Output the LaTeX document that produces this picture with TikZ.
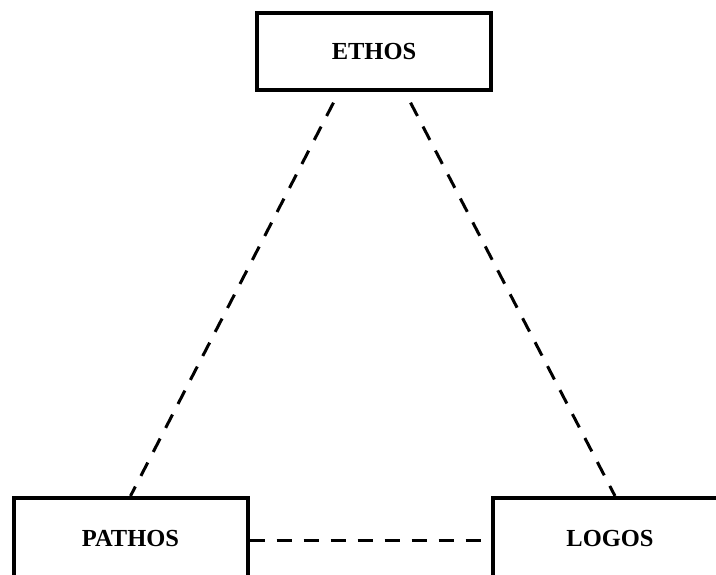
\documentclass[tikz,border=0pt]{standalone}
\usepackage{fontspec}
\setmainfont{Liberation Serif}
\usepackage{tikz}
\usetikzlibrary{calc}

\begin{document}
\begin{tikzpicture}[x=1pt,y=-1pt]
\tikzstyle{main}=[rectangle, draw=black, line width=4pt, inner sep=0pt, minimum width=234pt, minimum height=77pt, font=\fontsize{24.5}{28}\selectfont\bfseries]
\tikzstyle{low}=[main, minimum height=81pt]
\tikzstyle{connect}=[line width=3pt, dash pattern=on 15pt off 12pt, dash phase=15pt]

  \useasboundingbox (0,0) rectangle (716,574);

  \node[main] (ethos)  at (374,51.5)   {ETHOS};
  \node[low]  (pathos) at (130.5,538.5) {PATHOS};
  \node[low]  (logos)  at (610,538.5)  {LOGOS};

  \path ([xshift=-35pt]ethos.south) edge [connect] (pathos.north)
        ([xshift=31pt]ethos.south)  edge [connect] ([xshift=5pt]logos.north)
        ([yshift=-2pt]pathos.east)  edge [connect, dash phase=0pt] ([yshift=-2pt]logos.west);

\end{tikzpicture}
\end{document}
